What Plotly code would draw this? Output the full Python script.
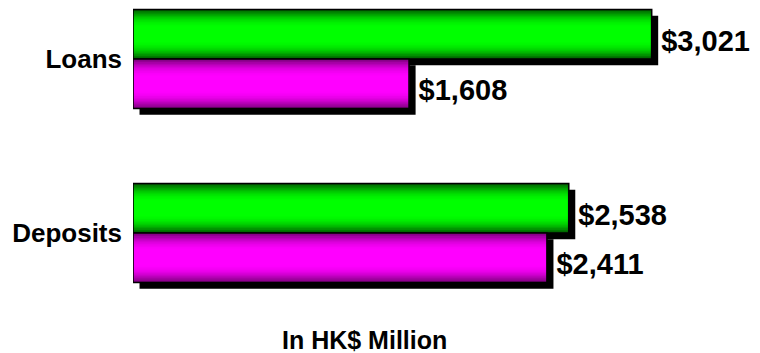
import plotly.graph_objects as go

# Data (HK$ million)
categories = ["Deposits", "Loans"]
series_names = ["Green", "Magenta"]
green_values = [2538, 3021]
magenta_values = [2411, 1608]
value_labels_green = ["$2,538", "$3,021"]
value_labels_magenta = ["$2,411", "$1,608"]

FONT = "Liberation Sans, Arial, sans-serif"
BAR_W = 0.2845            # thickness of each bar in category units
SHADOW_DX = 38            # shadow shift along the value axis
SHADOW_DY = 0.036         # shadow shift along the category axis
N_LAYERS = 16             # layers used to build the vertical shading

X_MAX = 3652
Y_RANGE = [-0.385, 1.339]


def shade(dark, bright, t):
    """Colour for normalised distance t from edge (0) to centre (1)."""
    s = 1 - (1 - min(1.0, t / 0.75)) ** 2
    return "rgb({},{},{})".format(*[round(d + (b - d) * s) for d, b in zip(dark, bright)])


fig = go.Figure()

series = [
    (green_values, value_labels_green, 0.0, (0, 80, 0), (0, 255, 0)),
    (magenta_values, value_labels_magenta, -BAR_W, (112, 0, 112), (255, 0, 255)),
]

# drop shadows (carry the value labels)
for vals, labels, off, dark, bright in series:
    fig.add_trace(go.Bar(
        y=categories, x=vals, base=SHADOW_DX, orientation="h",
        offset=off - SHADOW_DY, width=BAR_W,
        marker=dict(color="black", line=dict(width=0)),
        text=labels, textposition="outside", constraintext="none",
        textfont=dict(family=FONT, size=29, color="black", weight="bold"),
        cliponaxis=False, hoverinfo="skip", showlegend=False,
    ))

# shaded bars: nested layers, darker at the edges, bright in the middle
for vals, labels, off, dark, bright in series:
    for k in range(N_LAYERS):
        frac = 1 - k / N_LAYERS
        w = BAR_W * frac
        fig.add_trace(go.Bar(
            y=categories, x=vals, orientation="h",
            offset=off + (BAR_W - w) / 2, width=w,
            marker=dict(color=shade(dark, bright, (k + 0.5) / N_LAYERS), line=dict(width=0)),
            hoverinfo="skip", showlegend=False,
        ))
    # outline
    fig.add_trace(go.Bar(
        y=categories, x=vals, orientation="h", offset=off, width=BAR_W,
        marker=dict(color="rgba(0,0,0,0)", line=dict(color="black", width=1.6)),
        hoverinfo="skip", showlegend=False,
    ))

fig.add_annotation(
    text="In HK$ Million", xref="paper", yref="paper",
    x=0.37, y=-0.133, xanchor="center", yanchor="middle", showarrow=False,
    font=dict(family=FONT, size=25, color="black", weight="bold"),
)

fig.update_layout(
    width=760, height=353,
    margin=dict(l=133, r=0, t=0, b=53),
    barmode="overlay",
    plot_bgcolor="white", paper_bgcolor="white",
    font=dict(family=FONT, color="black"),
    xaxis=dict(range=[0, X_MAX], showgrid=False, zeroline=False,
               showticklabels=False, ticks="", showline=False),
    yaxis=dict(type="category", categoryarray=categories, range=Y_RANGE,
               showgrid=False, zeroline=False, showline=False, ticks="",
               ticklabelstandoff=10,
               tickfont=dict(family=FONT, size=26, color="black", weight="bold")),
)

fig.write_html("out.html")
